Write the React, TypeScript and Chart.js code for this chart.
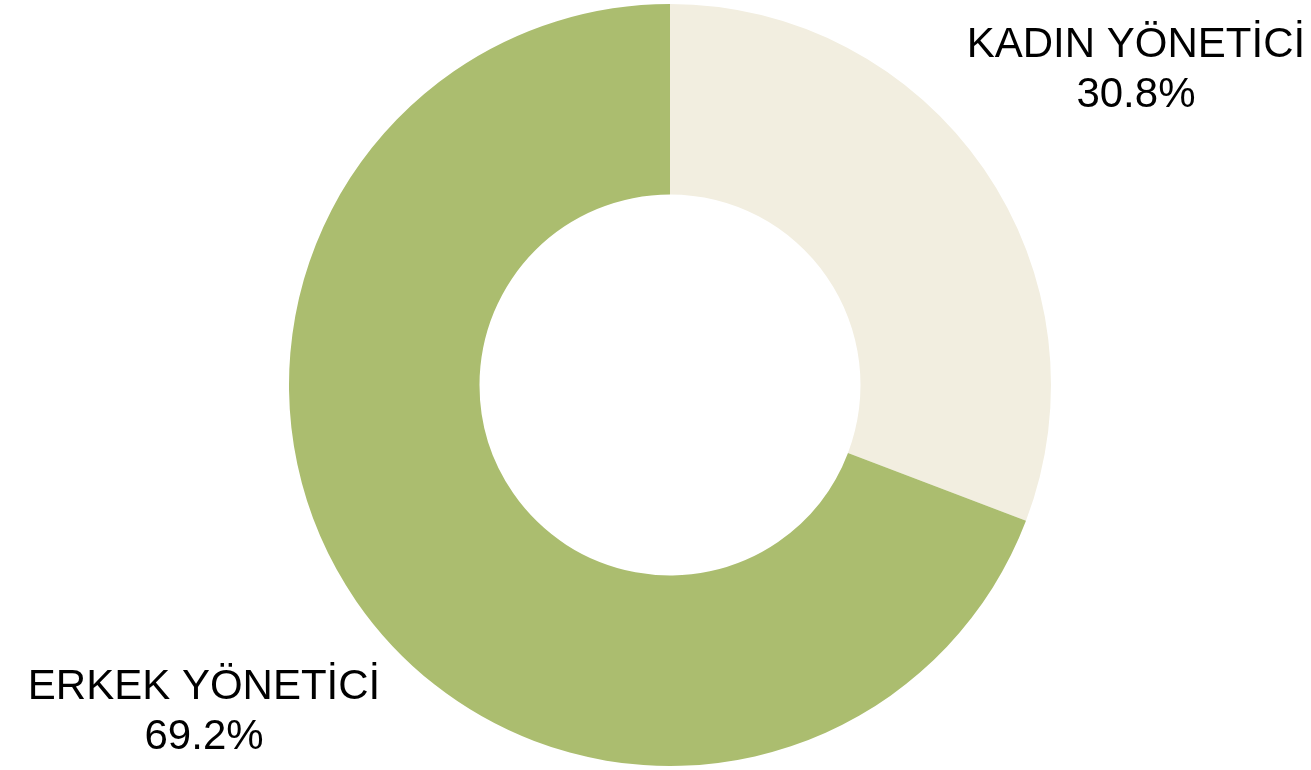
import React, { useEffect, useRef } from "react";
import { Chart, registerables } from "chart.js";

Chart.register(...registerables);

const categories = ["KADIN YÖNETİCİ", "ERKEK YÖNETİCİ"];
const values = [30.8, 69.2];
const colors = ["#F2EEE0", "#ABBD6F"];

const labelPlugin = {
  id: "outerLabels",
  afterDatasetsDraw(chart: any) {
    const { ctx } = chart;
    const meta = chart.getDatasetMeta(0);
    ctx.save();
    ctx.font = '42px "Liberation Sans", Arial, sans-serif';
    ctx.fillStyle = "#000000";
    ctx.textAlign = "center";
    ctx.textBaseline = "alphabetic";
    meta.data.forEach((arc: any, i: number) => {
      const p = arc.getProps(["x", "y", "startAngle", "endAngle", "outerRadius"], true);
      const mid = (p.startAngle + p.endAngle) / 2;
      const k = 1.485;
      const x = p.x + Math.cos(mid) * p.outerRadius * k;
      const y = p.y + Math.sin(mid) * p.outerRadius * k;
      ctx.fillText(categories[i], x, y - 7);
      ctx.fillText(values[i].toFixed(1) + "%", x, y + 43);
    });
    ctx.restore();
  },
};

export default function App() {
  const ref = useRef<HTMLCanvasElement>(null);
  useEffect(() => {
    const chart = new Chart(ref.current!, {
      type: "doughnut",
      data: {
        labels: categories,
        datasets: [
          {
            data: values,
            backgroundColor: colors,
            borderWidth: 0,
          },
        ],
      },
      options: {
        animation: false,
        responsive: false,
        cutout: "50%",
        layout: { padding: { left: 29, right: 0, top: 4, bottom: 4 } },
        plugins: { legend: { display: false }, tooltip: { enabled: false } },
      },
      plugins: [labelPlugin],
    });
    return () => chart.destroy();
  }, []);
  return (
    <div style={{ position: "absolute", left: 0, top: 0, width: 1311, height: 770, background: "#fff" }}>
      <canvas ref={ref} width={1311} height={770} style={{ display: "block" }} />
    </div>
  );
}
